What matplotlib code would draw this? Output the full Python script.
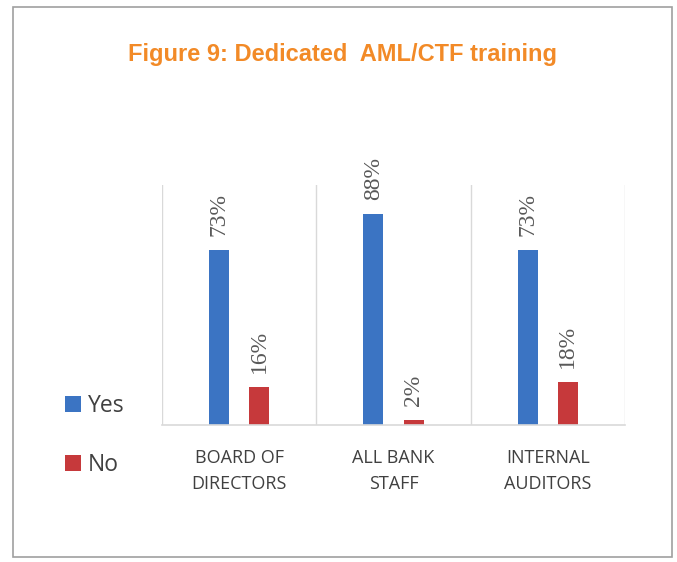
import matplotlib
matplotlib.use("Agg")
import matplotlib.pyplot as plt
from matplotlib.patches import Rectangle
import numpy as np

categories = ["BOARD OF\nDIRECTORS", "ALL BANK\nSTAFF", "INTERNAL\nAUDITORS"]
yes_vals = [73, 88, 73]
no_vals = [16, 2, 18]
series_names = ["Yes", "No"]
title = "Figure 9: Dedicated  AML/CTF training"

W, H = 677, 562
fig = plt.figure(figsize=(W / 100, H / 100), dpi=100)
fig.patch.set_facecolor("white")

# outer frame
fig.add_artist(Rectangle((13 / W, 1 - 557 / H), (672 - 13) / W, (557 - 7) / H,
                         transform=fig.transFigure, fill=False,
                         edgecolor="#a0a0a0", linewidth=1.2))

left, right, top, bottom = 162, 625, 185, 425
ax = fig.add_axes([left / W, 1 - bottom / H, (right - left) / W, (bottom - top) / H])

x = np.arange(len(categories))
bw = 0.13
off = 0.13
blue = "#3b74c3"
red = "#c6393b"
b1 = ax.bar(x - off, yes_vals, bw, color=blue, label=series_names[0])
b2 = ax.bar(x + off, no_vals, bw, color=red, label=series_names[1])

for bars, vals in ((b1, yes_vals), (b2, no_vals)):
    for r, v in zip(bars, vals):
        ax.annotate(f"{v}%", (r.get_x() + r.get_width() / 2, r.get_height()),
                    xytext=(0, 10), textcoords="offset points",
                    rotation=90, ha="center", va="bottom",
                    fontsize=17, color="#595959", family="Liberation Serif")

ax.set_xlim(-0.5, len(categories) - 0.5)
ax.set_ylim(0, 100)
ax.set_yticks([])
ax.set_xticks([])
for xv in np.arange(len(categories) + 1) - 0.5:
    ax.axvline(xv, color="#d9d9d9", linewidth=1)
for s in ["top", "right", "left"]:
    ax.spines[s].set_visible(False)
ax.spines["bottom"].set_color("#d9d9d9")
ax.spines["bottom"].set_linewidth(1.2)

for i, c in enumerate(categories):
    ax.text(i, -10, c, ha="center", va="top",
            fontsize=13, color="#404040", family="Open Sans",
            linespacing=1.55, transform=ax.transData)

# legend
fig.legend(handles=[b1, b2], labels=series_names, loc="upper left",
           bbox_to_anchor=(44 / W, 1 - 373 / H), frameon=False,
           prop={"family": "Open Sans", "size": 16.5},
           handlelength=0.7, handleheight=0.7, handletextpad=0.3,
           labelspacing=1.55, labelcolor="#404040")

fig.text(343 / W, 1 - 55 / H, title, ha="center", va="center",
         fontsize=17, fontweight="bold", color="#f28a27",
         family=["Liberation Sans", "DejaVu Sans"])

fig.savefig("out.png", dpi=100, facecolor="white")
